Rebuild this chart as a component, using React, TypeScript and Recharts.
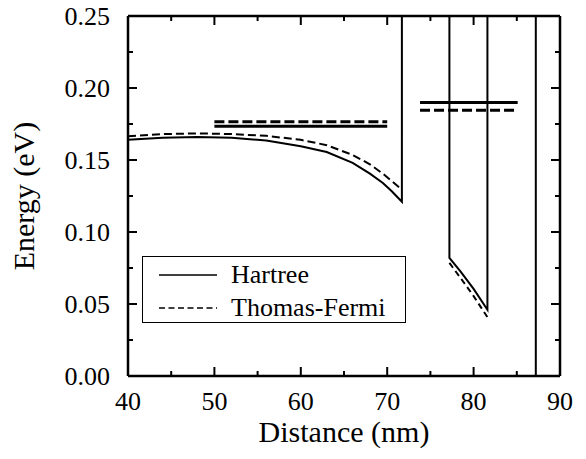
import React from "react";
import { Legend, Line, LineChart, ReferenceLine, XAxis, YAxis } from "recharts";

// distance (nm) / energy (eV)
const hartreeWellAX = [40, 44, 48, 52, 56, 60, 63, 66, 68, 69.5, 70.5, 71.7, 71.7];
const hartreeWellAY = [0.164, 0.1655, 0.166, 0.1655, 0.1635, 0.1595, 0.1555, 0.148, 0.1405, 0.134, 0.1285, 0.121, 0.25];
const tfWellAX = [40, 44, 48, 52, 56, 60, 63, 66, 68, 69.5, 70.5, 71.6];
const tfWellAY = [0.1665, 0.168, 0.1685, 0.168, 0.1668, 0.164, 0.1603, 0.1535, 0.147, 0.1405, 0.1355, 0.13];
const hartreeWellBX = [77.2, 77.2, 78.5, 80, 81.6, 81.6];
const hartreeWellBY = [0.25, 0.082, 0.0725, 0.0605, 0.046, 0.25];
const tfWellBX = [77.2, 78.5, 80, 81.7];
const tfWellBY = [0.0785, 0.068, 0.0555, 0.04];
const barrierX = [87.2, 87.2];
const barrierY = [0, 0.25];

const hartreeLevelAX = [50, 70];
const hartreeLevelAY = [0.1735, 0.1735];
const tfLevelAX = [50, 70];
const tfLevelAY = [0.1765, 0.1765];
const hartreeLevelBX = [73.8, 85.1];
const hartreeLevelBY = [0.19, 0.19];
const tfLevelBX = [73.8, 84.7];
const tfLevelBY = [0.1845, 0.1845];

const xTicks = [40, 45, 50, 55, 60, 65, 70, 75, 80, 85, 90];
const yTicks = [0, 0.025, 0.05, 0.075, 0.1, 0.125, 0.15, 0.175, 0.2, 0.225, 0.25];
const legendNames = ["Hartree", "Thomas-Fermi"];

const FONT = "Liberation Serif, Times New Roman, serif";

// plot box in px (frame ticks on top/right mirror the axis ticks)
const W = 586;
const H = 459;
const MARGIN = { top: 16, right: 26, bottom: 0, left: 0 };
const Y_AXIS_W = 128;
const X_AXIS_H = 83;
const PLOT_TOP = MARGIN.top;
const PLOT_RIGHT = W - MARGIN.right;

const pts = (xs: number[], ys: number[]) => xs.map((x, i) => ({ x, y: ys[i] }));

const BottomTick = (props: any) => {
  const { x, y, index, payload } = props;
  const len = index % 2 === 0 ? 9 : 5;
  return (
    <g>
      <path d={`M${x},${y}V${y - len}`} stroke="#000" strokeWidth={2} />
      <path d={`M${x},${PLOT_TOP}V${PLOT_TOP + len}`} stroke="#000" strokeWidth={2} />
      {index % 2 === 0 && (
        <text x={x} y={y + 34} textAnchor="middle" style={{ fontFamily: FONT, fontSize: 26 }} fill="#000">
          {payload.value}
        </text>
      )}
    </g>
  );
};

const LeftTick = (props: any) => {
  const { x, y, index, payload } = props;
  const len = index % 2 === 0 ? 9 : 5;
  return (
    <g>
      <path d={`M${x},${y}H${x + len}`} stroke="#000" strokeWidth={2} />
      <path d={`M${PLOT_RIGHT},${y}H${PLOT_RIGHT - len}`} stroke="#000" strokeWidth={2} />
      {index % 2 === 0 && (
        <text x={x - 18} y={y} dy="0.33em" textAnchor="end" style={{ fontFamily: FONT, fontSize: 26 }} fill="#000">
          {Number(payload.value).toFixed(2)}
        </text>
      )}
    </g>
  );
};

const LegendBox = () => (
  <div
    style={{
      border: "1.5px solid #000",
      background: "#fff",
      width: 264,
      height: 67,
      boxSizing: "border-box",
      fontFamily: FONT,
      fontSize: 26,
      paddingTop: 1,
    }}
  >
    {legendNames.map((name, i) => (
      <div key={name} style={{ display: "flex", alignItems: "center", height: 33 }}>
        <svg width={88} height={20}>
          <line
            x1={16}
            x2={74}
            y1={10}
            y2={10}
            stroke="#000"
            strokeWidth={1.5}
            strokeDasharray={i === 1 ? "6 3.5" : undefined}
          />
        </svg>
        <span style={{ lineHeight: "33px", fontFamily: FONT }}>{name}</span>
      </div>
    ))}
  </div>
);

export default function App() {
  const series = [
    { key: "hA", data: pts(hartreeWellAX, hartreeWellAY), dash: undefined, w: 2 },
    { key: "tA", data: pts(tfWellAX, tfWellAY), dash: "8 4", w: 2 },
    { key: "hB", data: pts(hartreeWellBX, hartreeWellBY), dash: undefined, w: 2 },
    { key: "tB", data: pts(tfWellBX, tfWellBY), dash: "6 4", w: 2 },
    { key: "bar", data: pts(barrierX, barrierY), dash: undefined, w: 2 },
    { key: "hLA", data: pts(hartreeLevelAX, hartreeLevelAY), dash: undefined, w: 3 },
    { key: "tLA", data: pts(tfLevelAX, tfLevelAY), dash: "10 4", w: 3 },
    { key: "hLB", data: pts(hartreeLevelBX, hartreeLevelBY), dash: undefined, w: 3 },
    { key: "tLB", data: pts(tfLevelBX, tfLevelBY), dash: "10 4", w: 3 },
  ];

  return (
    <div style={{ position: "absolute", left: 0, top: 0, background: "#fff" }}>
      <LineChart width={W} height={H} margin={MARGIN}>
        <XAxis
          dataKey="x"
          type="number"
          domain={[40, 90]}
          ticks={xTicks}
          allowDataOverflow
          height={X_AXIS_H}
          tickSize={0}
          tickMargin={0}
          tick={<BottomTick />}
          axisLine={{ stroke: "#000", strokeWidth: 2.5 }}
          label={({ viewBox }: any) => (
            <text
              x={viewBox.x + viewBox.width / 2}
              y={viewBox.y + 66}
              textAnchor="middle"
              style={{ fontFamily: FONT, fontSize: 30 }}
              fill="#000"
            >
              Distance (nm)
            </text>
          )}
        />
        <YAxis
          dataKey="y"
          type="number"
          domain={[0, 0.25]}
          ticks={yTicks}
          allowDataOverflow
          width={Y_AXIS_W}
          tickSize={0}
          tickMargin={0}
          tick={<LeftTick />}
          axisLine={{ stroke: "#000", strokeWidth: 2.5 }}
          label={({ viewBox }: any) => {
            const cx = 34;
            const cy = viewBox.y + viewBox.height / 2;
            return (
              <text
                x={cx}
                y={cy}
                transform={`rotate(-90 ${cx} ${cy})`}
                textAnchor="middle"
                style={{ fontFamily: FONT, fontSize: 30 }}
                fill="#000"
              >
                Energy (eV)
              </text>
            );
          }}
        />
        <ReferenceLine y={0.25} stroke="#000" strokeWidth={2.5} />
        <ReferenceLine x={90} stroke="#000" strokeWidth={2.5} />
        {series.map((s) => (
          <Line
            key={s.key}
            data={s.data}
            dataKey="y"
            type="linear"
            stroke="#000"
            strokeWidth={s.w}
            strokeDasharray={s.dash}
            dot={false}
            activeDot={false}
            isAnimationActive={false}
            legendType="none"
          />
        ))}
        <Legend
          layout="vertical"
          align="center"
          verticalAlign="middle"
          wrapperStyle={{ left: 142, top: 256, width: 264, height: 67 }}
          content={() => <LegendBox />}
        />
      </LineChart>
    </div>
  );
}
